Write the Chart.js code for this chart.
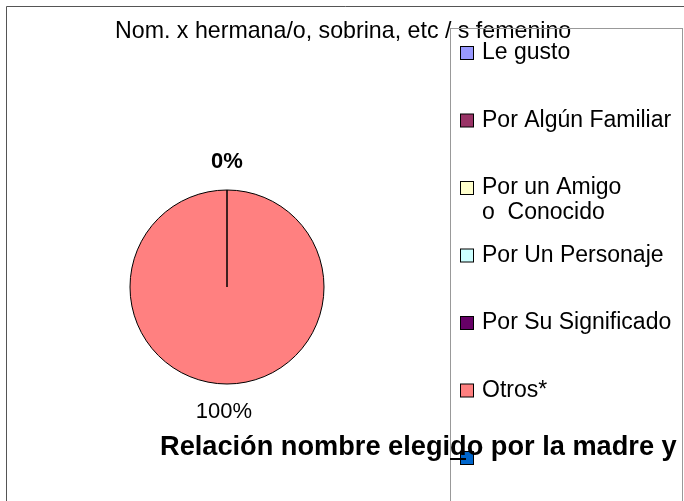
<!DOCTYPE html>
<html>
<head>
<meta charset="utf-8">
<script src="https://cdn.jsdelivr.net/npm/chart.js@4.4.1/dist/chart.umd.min.js"></script>
<style>
html,body{margin:0;padding:0;background:#fff;}
#wrap{width:684px;height:501px;position:relative;}
</style>
</head>
<body>
<div id="wrap"><canvas id="c" width="684" height="501"></canvas></div>
<script>
// ---- data ----
const categories = ["Le gusto", "Por Algún Familiar", ["Por un Amigo", "o  Conocido"], "Por Un Personaje", "Por Su Significado", "Otros*", ""];
const values = [0, 0, 0, 0, 0, 100, 0];
const sliceColors = ["#9999FF", "#993366", "#FFFFCC", "#CCFFFF", "#660066", "#FF8080", "#0066CC"];
const topText = "Nom. x hermana/o, sobrina, etc / s femenino";
const chartTitle = "Relación nombre elegido por la madre y";

const FONT = "'Liberation Sans', Arial, sans-serif";

const bgPlugin = {
  id: 'bg',
  beforeDraw(chart) {
    const ctx = chart.ctx;
    ctx.save();
    ctx.fillStyle = '#fff';
    ctx.fillRect(0, 0, chart.width, chart.height);
    ctx.restore();
  }
};

const decorPlugin = {
  id: 'decor',
  afterDraw(chart) {
    const ctx = chart.ctx;
    ctx.save();
    // outer frame
    ctx.strokeStyle = '#555';
    ctx.lineWidth = 1;
    ctx.beginPath();
    ctx.moveTo(6.5, 501); ctx.lineTo(6.5, 6.5); ctx.lineTo(684, 6.5);
    ctx.stroke();

    // top text
    ctx.fillStyle = '#000';
    ctx.font = '23.2px ' + FONT;
    ctx.textAlign = 'left';
    ctx.textBaseline = 'alphabetic';
    ctx.fillText(topText, 115, 38);

    // legend box
    ctx.strokeStyle = '#999';
    ctx.strokeRect(450.5, 28.5, 232, 490);

    // legend items
    ctx.font = '23px ' + FONT;
    const labels = chart.data.labels;
    const colors = chart.data.datasets[0].backgroundColor;
    labels.forEach((lab, i) => {
      const cy = 53 + i * 67.5;
      ctx.fillStyle = colors[i];
      ctx.fillRect(460.5, cy - 6.5, 13, 13);
      ctx.strokeStyle = '#000';
      ctx.lineWidth = 1;
      ctx.strokeRect(460.5, cy - 6.5, 13, 13);
      ctx.fillStyle = '#000';
      const lines = Array.isArray(lab) ? lab : [lab];
      lines.forEach((t, k) => {
        ctx.fillText(t, 482, cy + 6 + k * 25);
      });
    });

    // data labels
    const meta = chart.getDatasetMeta(0);
    const ds = chart.data.datasets[0].data;
    const total = ds.reduce((a, b) => a + b, 0);
    const seen = [];
    meta.data.forEach((arc, i) => {
      const p = arc.getProps(['startAngle', 'endAngle', 'x', 'y', 'outerRadius'], true);
      const mid = (p.startAngle + p.endAngle) / 2;
      const r = p.outerRadius + 28;
      const x = p.x + Math.cos(mid) * r;
      const y = p.y + Math.sin(mid) * r;
      if (seen.some(s => Math.abs(s[0] - x) < 2 && Math.abs(s[1] - y) < 2)) return;
      seen.push([x, y]);
      const pct = Math.round(ds[i] / total * 100) + '%';
      ctx.font = (ds[i] === 0 ? 'bold ' : '') + '22px ' + FONT;
      ctx.textAlign = 'center';
      ctx.textBaseline = 'middle';
      ctx.fillStyle = '#000';
      ctx.fillText(pct, x - (ds[i] === 0 ? 0 : 3), y);
    });

    // bottom chart title
    ctx.font = 'bold 27.2px ' + FONT;
    ctx.textAlign = 'left';
    ctx.textBaseline = 'alphabetic';
    ctx.fillStyle = '#000';
    ctx.fillText(chartTitle, 160, 455);

    // small leader dash at last legend entry
    ctx.strokeStyle = '#000';
    ctx.lineWidth = 2;
    ctx.beginPath();
    ctx.moveTo(450, 459); ctx.lineTo(466, 459);
    ctx.stroke();
    ctx.restore();
  }
};

new Chart(document.getElementById('c'), {
  type: 'pie',
  data: {
    labels: categories,
    datasets: [{
      data: values,
      backgroundColor: sliceColors,
      borderColor: '#000',
      borderWidth: 1,
      hoverOffset: 0
    }]
  },
  options: {
    responsive: false,
    devicePixelRatio: 1,
    animation: false,
    radius: 97,
    layout: { padding: { left: 130, right: 360, top: 190, bottom: 117 } },
    plugins: {
      legend: { display: false },
      title: { display: false },
      tooltip: { enabled: false }
    }
  },
  plugins: [bgPlugin, decorPlugin]
});
</script>
</body>
</html>
